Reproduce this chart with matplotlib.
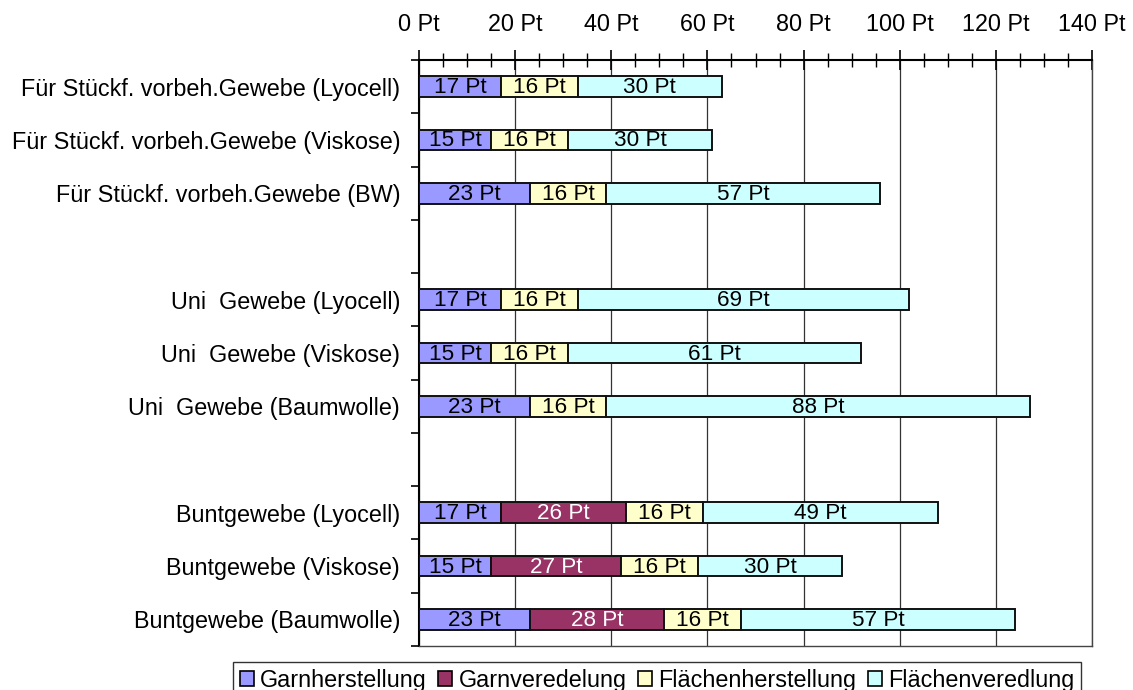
import numpy as np
import matplotlib.pyplot as plt
from matplotlib.ticker import MultipleLocator, FixedLocator
from matplotlib.patches import Patch

plt.rcParams['font.family'] = ['Liberation Sans', 'DejaVu Sans']

# Categories from top to bottom ("" = empty spacer row)
categories = [
    "Für Stückf. vorbeh.Gewebe (Lyocell)",
    "Für Stückf. vorbeh.Gewebe (Viskose)",
    "Für Stückf. vorbeh.Gewebe (BW)",
    "",
    "Uni  Gewebe (Lyocell)",
    "Uni  Gewebe (Viskose)",
    "Uni  Gewebe (Baumwolle)",
    "",
    "Buntgewebe (Lyocell)",
    "Buntgewebe (Viskose)",
    "Buntgewebe (Baumwolle)",
]

series_names = ["Garnherstellung", "Garnveredelung", "Flächenherstellung", "Flächenveredlung"]

garnherstellung =     [17, 15, 23, 0, 17, 15, 23, 0, 17, 15, 23]
garnveredelung =      [0,  0,  0,  0, 0,  0,  0,  0, 26, 27, 28]
flaechenherstellung = [16, 16, 16, 0, 16, 16, 16, 0, 16, 16, 16]
flaechenveredlung =   [30, 30, 57, 0, 69, 61, 88, 0, 49, 30, 57]

colors = ["#9999FF", "#993366", "#FFFFCC", "#CCFFFF"]
text_colors = ["black", "white", "black", "black"]

x_ticks = [0, 20, 40, 60, 80, 100, 120, 140]

fig = plt.figure(figsize=(11.33, 6.9), dpi=100)
ax = fig.add_axes([419 / 1133, 1 - 646 / 690, (1092 - 419) / 1133, (646 - 60) / 690])

n = len(categories)
y = np.arange(n)
series = [garnherstellung, garnveredelung, flaechenherstellung, flaechenveredlung]
left = np.zeros(n)
for vals, col, tcol in zip(series, colors, text_colors):
    vals = np.array(vals, dtype=float)
    mask = vals > 0
    ax.barh(y[mask], vals[mask], left=left[mask], height=0.39, color=col,
            edgecolor="#111111", linewidth=1.4, zorder=3)
    for yi, v, l in zip(y[mask], vals[mask], left[mask]):
        ax.text(l + v / 2, yi + 0.02, f"{int(v)} Pt", ha="center", va="center",
                color=tcol, fontsize=16.2, zorder=4)
    left = left + vals

ax.set_ylim(n - 0.5, -0.5)
ax.set_xlim(0, 140)

# Value axis on top
ax.xaxis.tick_top()
ax.set_xticks(x_ticks)
ax.set_xticklabels([f"{t} Pt" for t in x_ticks])
ax.xaxis.set_minor_locator(MultipleLocator(5))
ax.tick_params(axis="x", which="major", direction="inout", length=14, width=1.2,
               pad=10, labelsize=16.8)
ax.tick_params(axis="x", which="minor", direction="inout", length=10, width=1.0, top=True)
ax.grid(axis="x", which="major", color="#333333", linewidth=0.9, zorder=0)

# Category axis on the left: labels at bar centres, ticks at row boundaries
ax.set_yticks(y)
ax.set_yticklabels(categories)
ax.tick_params(axis="y", which="major", length=0, pad=13.5, labelsize=16.8)
ax.yaxis.set_minor_locator(FixedLocator(np.arange(n + 1) - 0.5))
ax.tick_params(axis="y", which="minor", direction="out", length=6, width=1.2)

for side in ["top", "left"]:
    ax.spines[side].set_linewidth(1.5)
    ax.spines[side].set_color("black")
for side in ["bottom", "right"]:
    ax.spines[side].set_color("#444444")
    ax.spines[side].set_linewidth(1.0)

handles = [Patch(facecolor=c, edgecolor="black", linewidth=1.2) for c in colors]
leg = fig.legend(handles, series_names, loc="upper center",
                 bbox_to_anchor=(657 / 1133, 1 - 662 / 690), ncol=4,
                 fontsize=16.8, frameon=True, fancybox=False, shadow=False,
                 handlelength=0.6, handleheight=0.6, handletextpad=0.26,
                 columnspacing=0.5, borderpad=0.3, borderaxespad=0)
leg.get_frame().set_edgecolor("black")
leg.get_frame().set_linewidth(1.0)

fig.savefig("out.png", dpi=100)
